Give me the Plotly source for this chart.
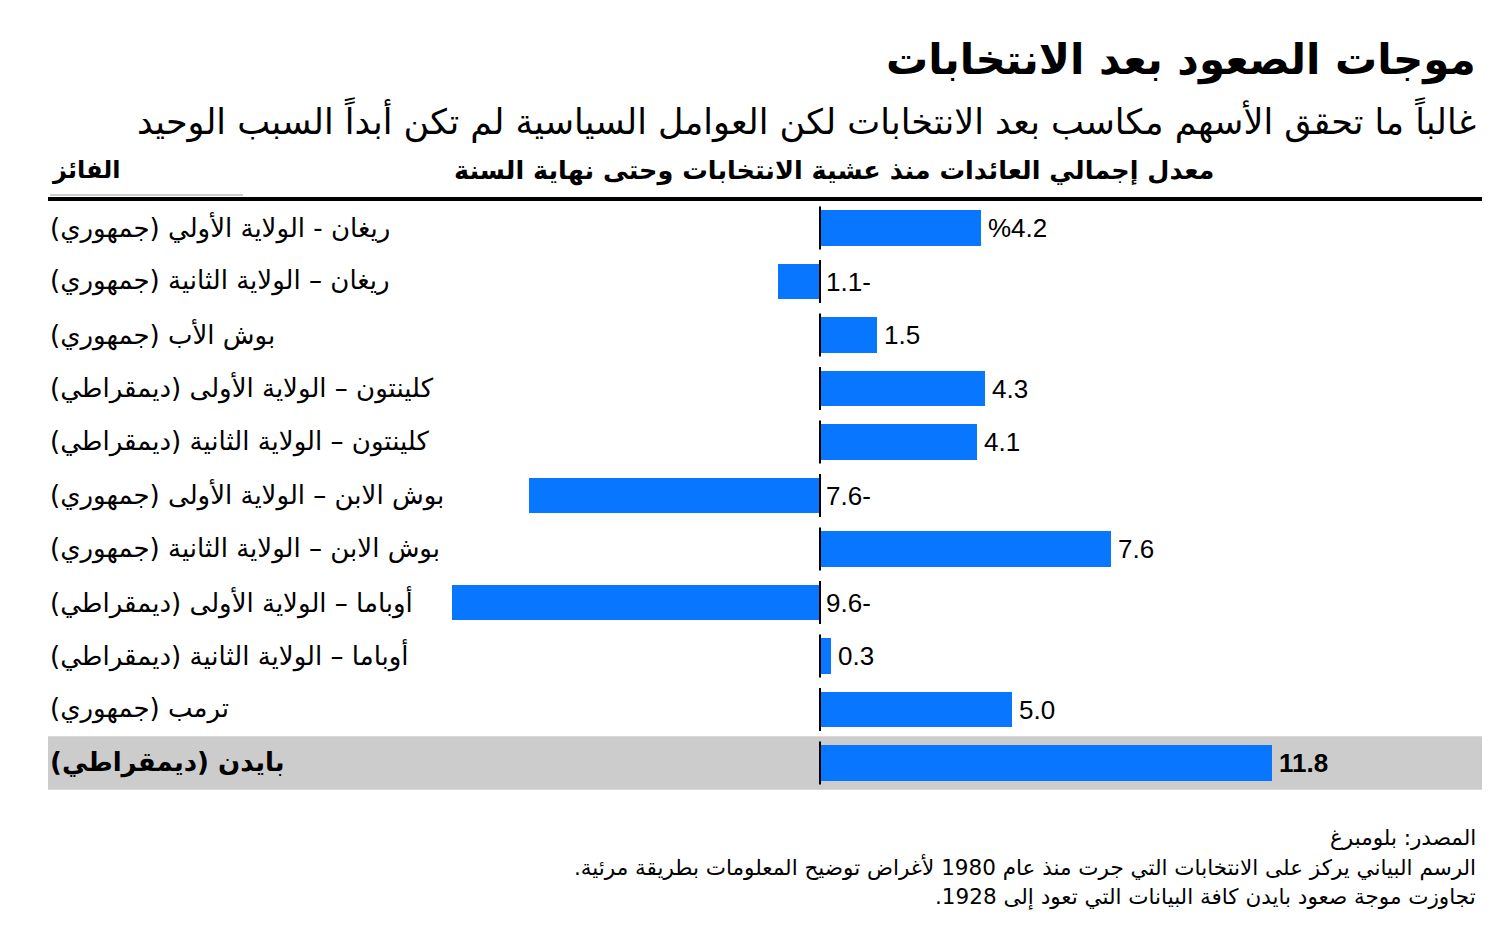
import plotly.graph_objects as go

# ---- data ----
categories = [
    "ريغان - الولاية الأولي (جمهوري)",
    "ريغان – الولاية الثانية (جمهوري)",
    "بوش الأب (جمهوري)",
    "كلينتون – الولاية الأولى (ديمقراطي)",
    "كلينتون – الولاية الثانية (ديمقراطي)",
    "بوش الابن – الولاية الأولى (جمهوري)",
    "بوش الابن – الولاية الثانية (جمهوري)",
    "أوباما – الولاية الأولى (ديمقراطي)",
    "أوباما – الولاية الثانية (ديمقراطي)",
    "ترمب (جمهوري)",
    "بايدن (ديمقراطي)",
]
returns = [4.2, -1.1, 1.5, 4.3, 4.1, -7.6, 7.6, -9.6, 0.3, 5.0, 11.8]
highlight = "بايدن (ديمقراطي)"

title = "موجات الصعود بعد الانتخابات"
subtitle = "غالباً ما تحقق الأسهم مكاسب بعد الانتخابات لكن العوامل السياسية لم تكن أبداً السبب الوحيد"
col_left = "الفائز"
col_right = "معدل إجمالي العائدات منذ عشية الانتخابات وحتى نهاية السنة"
notes = [
    "المصدر: بلومبرغ",
    "الرسم البياني يركز على الانتخابات التي جرت منذ عام 1980 لأغراض توضيح المعلومات بطريقة مرئية.\u200f",
    "تجاوزت موجة صعود بايدن كافة البيانات التي تعود إلى 1928.\u200f",
]

# ---- layout geometry (page pixels; figure sits at an 8px body offset) ----
O = 8
W, Hfig = 1511 - O, 928 - O
L, R = 48 - O, 1482 - O
T, B = 199 - O, 790 - O
PH = B - T
AR = "DejaVu Sans, Noto Sans Arabic, sans-serif"
NUM = "Liberation Sans, Arial, sans-serif"
BLUE = "#0876FF"
ZERO = 820 - O
SCALE = 38.3
ROW0 = 228 - O
ROWH = 53.5


def py(px):
    return (B - (px - O)) / PH


def px_x(px):
    return ((px - O) - L) / (R - L)


n = len(categories)
ypos = list(range(n))

fig = go.Figure()

fig.add_trace(go.Bar(
    x=returns, y=ypos, orientation="h",
    marker=dict(color=BLUE, line=dict(width=0)),
    width=0.67, hoverinfo="skip", showlegend=False,
))

# zero line segments per bar
zx, zy = [], []
for i in ypos:
    zx += [0, 0, None]
    zy += [i - 0.4, i + 0.4, None]
fig.add_trace(go.Scatter(x=zx, y=zy, mode="lines",
                         line=dict(color="black", width=2),
                         hoverinfo="skip", showlegend=False))

annotations = []
for i, (c, v) in enumerate(zip(categories, returns)):
    if v < 0:
        txt = f"{abs(v):.1f}-"
    elif i == 0:
        txt = f"%{v:.1f}"
    else:
        txt = f"{v:.1f}"
    bold = c == highlight
    annotations.append(dict(
        x=max(v, 0), y=i, xref="x", yref="y", text=f"<b>{txt}</b>" if bold else txt,
        xanchor="left", yanchor="middle", xshift=5 if v > 0 else 4, showarrow=False,
        font=dict(family=NUM, size=26, color="black"),
    ))
    annotations.append(dict(
        x=0, y=i, xref="paper", yref="y", text=f"<b>{c}</b>" if bold else c,
        xanchor="left", yanchor="middle", xshift=0, yshift=1, showarrow=False,
        font=dict(family=AR, size=26, color="black"),
    ))

annotations += [
    dict(x=px_x(1478), y=py(60), xref="paper", yref="paper", text=f"<b>{title}</b>",
         xanchor="right", yanchor="middle", showarrow=False,
         font=dict(family=AR, size=42, color="black")),
    dict(x=px_x(1478), y=py(120), xref="paper", yref="paper", text=subtitle,
         xanchor="right", yanchor="middle", showarrow=False,
         font=dict(family=AR, size=35, color="black")),
    dict(x=px_x(50), y=py(170), xref="paper", yref="paper", text=f"<b>{col_left}</b>",
         xanchor="left", yanchor="middle", showarrow=False,
         font=dict(family=AR, size=24, color="black")),
    dict(x=px_x(1216), y=py(170), xref="paper", yref="paper", text=f"<b>{col_right}</b>",
         xanchor="right", yanchor="middle", showarrow=False,
         font=dict(family=AR, size=25.5, color="black")),
]
for k, t in enumerate(notes):
    annotations.append(dict(
        x=px_x(1478), y=py(837 + 30 * k), xref="paper", yref="paper", text=t,
        xanchor="right", yanchor="middle", showarrow=False,
        font=dict(family=AR, size=21.5, color="black")))

hi = categories.index(highlight)
shapes = [
    dict(type="rect", xref="paper", yref="y", x0=0, x1=1, y0=hi - 0.5, y1=hi + 0.5,
         fillcolor="#CCCCCC", line=dict(width=0), layer="below"),
    dict(type="line", xref="paper", yref="paper", x0=0, x1=1, y0=py(199), y1=py(199),
         line=dict(color="black", width=4)),
    dict(type="line", xref="paper", yref="paper", x0=px_x(50), x1=px_x(243),
         y0=py(195), y1=py(195), line=dict(color="#999999", width=1)),
]

x0v = -(ZERO - L) / SCALE
x1v = (R - ZERO) / SCALE
ytop = (T - ROW0) / ROWH
ybot = (B - ROW0) / ROWH

fig.update_layout(
    width=W, height=Hfig,
    margin=dict(l=L, r=W - R, t=T, b=Hfig - B, pad=0),
    paper_bgcolor="white", plot_bgcolor="white",
    xaxis=dict(range=[x0v, x1v], visible=False, fixedrange=True),
    yaxis=dict(range=[ybot, ytop], visible=False, fixedrange=True),
    annotations=annotations, shapes=shapes, bargap=0, showlegend=False,
)

fig.write_html("out.html", config={"displayModeBar": False})
